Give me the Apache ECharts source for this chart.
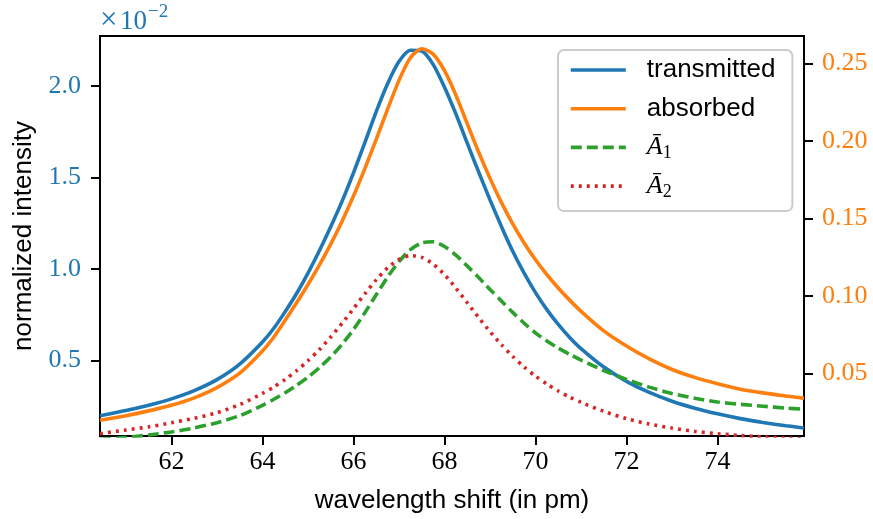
<!DOCTYPE html>
<html>
<head>
<meta charset="utf-8">
<script src="https://cdn.jsdelivr.net/npm/echarts@6/dist/echarts.min.js"></script>
<style>
  html, body { margin: 0; padding: 0; background: #fff; }
  #chart { width: 873px; height: 519px; }
</style>
</head>
<body>
<div id="chart"></div>
<script>
// wavelength shift (pm)
const xValues = [60.43, 61, 61.5, 62, 62.5, 63, 63.5, 64, 64.25, 64.5, 64.75, 65, 65.25, 65.5, 65.75, 66, 66.25, 66.5, 66.75, 67, 67.25, 67.5, 67.75, 68, 68.25, 68.5, 68.75, 69, 69.25, 69.5, 69.75, 70, 70.25, 70.5, 70.75, 71, 71.5, 72, 72.5, 73, 73.5, 74, 74.5, 75, 75.5, 75.9];
// transmitted (left axis, in units of 1e-2)
const transmitted = [0.197, 0.225, 0.254, 0.289, 0.334, 0.394, 0.479, 0.600, 0.675, 0.766, 0.865, 0.977, 1.099, 1.230, 1.370, 1.525, 1.690, 1.860, 2.012, 2.133, 2.195, 2.191, 2.118, 1.993, 1.847, 1.687, 1.530, 1.377, 1.232, 1.096, 0.976, 0.870, 0.777, 0.696, 0.625, 0.564, 0.463, 0.385, 0.324, 0.276, 0.238, 0.207, 0.181, 0.160, 0.142, 0.130];
// absorbed (right axis)
const absorbed = [0.0198, 0.0228, 0.0259, 0.0295, 0.0343, 0.0409, 0.0502, 0.0645, 0.0735, 0.0844, 0.0956, 0.1074, 0.1199, 0.1334, 0.1482, 0.1644, 0.1821, 0.2010, 0.2204, 0.2390, 0.2536, 0.2594, 0.2559, 0.2452, 0.2295, 0.2111, 0.1928, 0.1758, 0.1603, 0.1464, 0.1341, 0.1233, 0.1137, 0.1051, 0.0973, 0.0901, 0.0775, 0.0677, 0.0594, 0.0526, 0.0475, 0.0434, 0.0399, 0.0375, 0.0355, 0.0340];
// A1 (right axis)
const a1 = [0.0075, 0.0088, 0.0104, 0.0123, 0.0149, 0.0183, 0.0228, 0.0295, 0.0334, 0.0376, 0.0424, 0.0476, 0.0537, 0.0607, 0.0689, 0.0784, 0.0892, 0.1008, 0.1122, 0.1222, 0.1298, 0.1342, 0.1349, 0.1319, 0.1263, 0.1193, 0.1119, 0.1042, 0.0968, 0.0894, 0.0824, 0.0761, 0.0710, 0.0664, 0.0624, 0.0587, 0.0519, 0.0462, 0.0412, 0.0371, 0.0340, 0.0316, 0.0301, 0.0289, 0.0277, 0.0269];
// A2 (right axis)
const a2 = [0.0112, 0.0136, 0.0156, 0.0182, 0.0211, 0.0247, 0.0300, 0.0371, 0.0413, 0.0462, 0.0518, 0.0582, 0.0654, 0.0735, 0.0824, 0.0918, 0.1014, 0.1104, 0.1181, 0.1236, 0.1260, 0.1249, 0.1206, 0.1137, 0.1051, 0.0956, 0.0861, 0.0770, 0.0686, 0.0610, 0.0542, 0.0483, 0.0432, 0.0387, 0.0348, 0.0314, 0.0256, 0.0209, 0.0174, 0.0148, 0.0127, 0.0112, 0.0100, 0.0091, 0.0084, 0.0079];

const xTicks = [62, 64, 66, 68, 70, 72, 74];
const leftTicks = [0.5, 1.0, 1.5, 2.0];
const rightTicks = [0.05, 0.10, 0.15, 0.20, 0.25];

const seriesNames = ['transmitted', 'absorbed', 'A1', 'A2'];

const BLUE = '#1f77b4', ORANGE = '#ff7f0e', GREEN = '#2ca02c', RED = '#d62728';
const SERIF = '"Liberation Serif", "DejaVu Serif", serif';
const SANS = '"Liberation Sans", Arial, sans-serif';
const LW = 3.6;

const pairs = ys => xValues.map((x, i) => [x, ys[i]]);

const chart = echarts.init(document.getElementById('chart'), null, { renderer: 'canvas' });

const tickStyle = { show: true, inside: false, length: 9, lineStyle: { color: '#000', width: 2 } };
const lineAxis = { show: true, onZero: false, lineStyle: { color: '#000', width: 2 } };

function lineSeries(name, ys, axis, color, type) {
  return {
    name, type: 'line', yAxisIndex: axis, data: pairs(ys),
    smooth: 0.25, symbol: 'none', showSymbol: false, clip: true,
    lineStyle: { color, width: LW, type: type || 'solid', cap: 'butt' },
    itemStyle: { color }
  };
}

chart.setOption({
  animation: false,
  backgroundColor: '#fff',
  grid: { left: 100, right: 69, top: 36, bottom: 82, show: true, borderColor: '#000', borderWidth: 2, backgroundColor: 'transparent' },
  xAxis: {
    type: 'value', min: 60.43, max: 75.9,
    axisLine: lineAxis,
    axisTick: Object.assign({}, tickStyle, { customValues: xTicks }),
    axisLabel: { customValues: xTicks, margin: 13, color: '#000', fontFamily: SERIF, fontSize: 26, formatter: v => String(v) },
    splitLine: { show: false },
    name: 'wavelength shift (in pm)', nameLocation: 'middle', nameGap: 52,
    nameTextStyle: { fontFamily: SANS, fontSize: 26, color: '#000' }
  },
  yAxis: [
    {
      type: 'value', position: 'left', min: 0.086, max: 2.273,
      axisLine: lineAxis,
      axisTick: Object.assign({}, tickStyle, { customValues: leftTicks }),
      axisLabel: { customValues: leftTicks, margin: 19, color: BLUE, fontFamily: SERIF, fontSize: 26, formatter: v => v.toFixed(1) },
      splitLine: { show: false },
      name: 'normalized intensity', nameLocation: 'middle', nameGap: 63,
      nameTextStyle: { fontFamily: SANS, fontSize: 26, color: '#000' }
    },
    {
      type: 'value', position: 'right', min: 0.0097, max: 0.2676,
      axisLine: lineAxis,
      axisTick: Object.assign({}, tickStyle, { customValues: rightTicks }),
      axisLabel: { customValues: rightTicks, margin: 18, color: ORANGE, fontFamily: SERIF, fontSize: 26, formatter: v => v.toFixed(2) },
      splitLine: { show: false }
    }
  ],
  legend: {
    data: seriesNames,
    orient: 'vertical',
    left: 558, top: 50,
    padding: [5, 17, 10, 11],
    itemWidth: 55, itemHeight: 30, itemGap: 8.7,
    backgroundColor: 'rgba(255,255,255,0.8)',
    borderColor: '#cccccc', borderWidth: 2, borderRadius: 6,
    itemStyle: { opacity: 0, borderWidth: 0 },
    lineStyle: { width: LW },
    formatter: name => name === 'A1' ? '{a|Ā}{s|1}' : name === 'A2' ? '{a|Ā}{s|2}' : name,
    textStyle: {
      fontFamily: SANS, fontSize: 26, color: '#000', lineHeight: 30, padding: [0, 0, 0, 16],
      rich: {
        a: { fontFamily: SERIF, fontStyle: 'italic', fontSize: 26, lineHeight: 30, color: '#000' },
        s: { fontFamily: SERIF, fontSize: 18, lineHeight: 20, verticalAlign: 'bottom', color: '#000' }
      }
    }
  },
  graphic: [
    { type: 'text', left: 100, top: 5, style: { text: '×', font: '31px ' + SERIF, fill: BLUE } },
    { type: 'text', left: 120, top: 8, style: { text: '10', font: '27px ' + SERIF, fill: BLUE } },
    { type: 'text', left: 148, top: 3, style: { text: '−2', font: '19px ' + SERIF, fill: BLUE } }
  ],
  series: [
    lineSeries('transmitted', transmitted, 0, BLUE),
    lineSeries('absorbed', absorbed, 1, ORANGE),
    lineSeries('A1', a1, 1, GREEN, [11, 5]),
    lineSeries('A2', a2, 1, RED, [3, 5])
  ]
});
</script>
</body>
</html>
